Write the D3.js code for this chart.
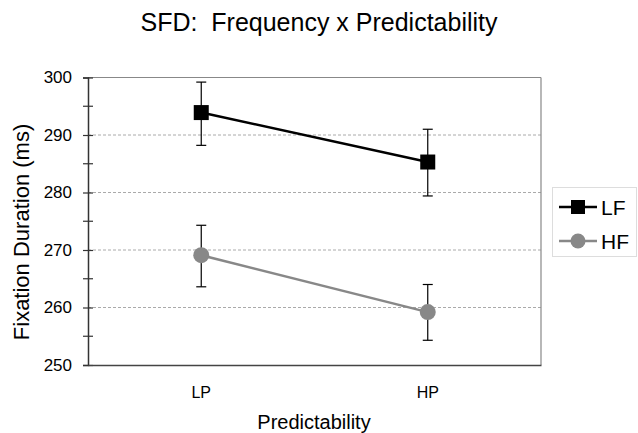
<!DOCTYPE html>
<html><head><meta charset="utf-8">
<script src="https://cdn.jsdelivr.net/npm/d3@7"></script>
<style>body{margin:0;background:#fff}svg{display:block;font-family:"Liberation Sans",Arial,sans-serif}</style>
</head><body>
<script>
const categories = ["LP", "HP"];
const seriesNames = ["LF", "HF"];
const lfMean = [293.9, 285.3];
const lfUpper = [299.2, 291.0];
const lfLower = [288.2, 279.4];
const hfMean = [269.1, 259.2];
const hfUpper = [274.3, 264.0];
const hfLower = [263.6, 254.3];
const yTicks = [250, 260, 270, 280, 290, 300];
const yMinorTicks = [255, 265, 275, 285, 295];

const W = 638, H = 433;
const svg = d3.select("body").append("svg").attr("width", W).attr("height", H);
const L = 88, R = 541, T = 77.5, B = 365;
const x = d3.scaleBand().domain(categories).range([L, R]);
const y = d3.scaleLinear().domain([250, 300]).range([B, T]);

svg.append("text").attr("x", 319).attr("y", 31).attr("text-anchor", "middle")
  .attr("font-size", 25).attr("fill", "#000").style("white-space", "pre").text("SFD:  Frequency x Predictability");

// grid
svg.append("g").selectAll("line").data(yTicks.filter(d => d > 250 && d < 300)).join("line")
  .attr("x1", L).attr("x2", R).attr("y1", d => y(d)).attr("y2", d => y(d))
  .attr("stroke", "#aaa").attr("stroke-width", 1).attr("stroke-dasharray", "3,2");
// top and right border
svg.append("line").attr("x1", L).attr("x2", R).attr("y1", y(300)).attr("y2", y(300)).attr("stroke", "#888").attr("stroke-width", 1.2);
svg.append("line").attr("x1", R).attr("x2", R).attr("y1", T).attr("y2", B).attr("stroke", "#888").attr("stroke-width", 1.2);

// y axis
const yAxis = svg.append("g").attr("transform", `translate(${L},0)`)
  .call(d3.axisLeft(y).tickValues(yTicks).tickSize(5).tickPadding(11));
yAxis.select(".domain").attr("stroke", "#333").attr("stroke-width", 1.5);
yAxis.selectAll(".tick line").attr("stroke", "#333").attr("stroke-width", 1.2).attr("x2", 5).attr("x1", -5);
yAxis.selectAll(".tick text").attr("font-size", 17).attr("fill", "#000").attr("font-family", "Liberation Sans, Arial, sans-serif");
svg.append("g").selectAll("line").data(yMinorTicks).join("line")
  .attr("x1", L - 5).attr("x2", L + 5).attr("y1", d => y(d)).attr("y2", d => y(d))
  .attr("stroke", "#333").attr("stroke-width", 1.2);

// x axis
const xAxis = svg.append("g").attr("transform", `translate(0,${B})`)
  .call(d3.axisBottom(x).tickSize(0).tickPadding(22));
xAxis.select(".domain").attr("stroke", "#444").attr("stroke-width", 1.5);
xAxis.selectAll(".tick text").attr("font-size", 16).attr("fill", "#000").attr("font-family", "Liberation Sans, Arial, sans-serif");

svg.append("text").attr("x", 314).attr("y", 429).attr("text-anchor", "middle").attr("font-size", 20).text("Predictability");
svg.append("text").attr("transform", "translate(29,232) rotate(-90)").attr("text-anchor", "middle").attr("font-size", 22).text("Fixation Duration (ms)");

const series = [
  {name: seriesNames[0], mean: lfMean, up: lfUpper, lo: lfLower, color: "#000", shape: "square"},
  {name: seriesNames[1], mean: hfMean, up: hfUpper, lo: hfLower, color: "#888", shape: "circle"}
];
const cx = c => x(c) + x.bandwidth() / 2;

series.forEach(s => {
  const g = svg.append("g");
  categories.forEach((c, i) => {
    g.append("line").attr("x1", cx(c)).attr("x2", cx(c)).attr("y1", y(s.up[i])).attr("y2", y(s.lo[i])).attr("stroke", "#000").attr("stroke-width", 1.2);
    [s.up[i], s.lo[i]].forEach(v => g.append("line").attr("x1", cx(c) - 5).attr("x2", cx(c) + 5).attr("y1", y(v)).attr("y2", y(v)).attr("stroke", "#000").attr("stroke-width", 1.2));
  });
  g.append("path").datum(s.mean).attr("fill", "none").attr("stroke", s.color).attr("stroke-width", 2.5)
    .attr("d", d3.line().x((d, i) => cx(categories[i])).y(d => y(d)));
  categories.forEach((c, i) => {
    if (s.shape === "square") g.append("rect").attr("x", cx(c) - 7.5).attr("y", y(s.mean[i]) - 7.5).attr("width", 15).attr("height", 15).attr("fill", s.color);
    else g.append("circle").attr("cx", cx(c)).attr("cy", y(s.mean[i])).attr("r", 8).attr("fill", s.color);
  });
});

// legend
const lg = svg.append("g");
lg.append("rect").attr("x", 552.5).attr("y", 187.5).attr("width", 84).attr("height", 69).attr("fill", "#fff").attr("stroke", "#ddd");
series.forEach((s, i) => {
  const ly = 207 + i * 34;
  lg.append("line").attr("x1", 559).attr("x2", 597).attr("y1", ly).attr("y2", ly).attr("stroke", s.color).attr("stroke-width", 2.5);
  if (s.shape === "square") lg.append("rect").attr("x", 578 - 7).attr("y", ly - 7).attr("width", 14).attr("height", 14).attr("fill", s.color);
  else lg.append("circle").attr("cx", 578).attr("cy", ly).attr("r", 7.5).attr("fill", s.color);
  lg.append("text").attr("x", 601).attr("y", ly + 7.5).attr("font-size", 21).text(s.name);
});
</script>
</body></html>
